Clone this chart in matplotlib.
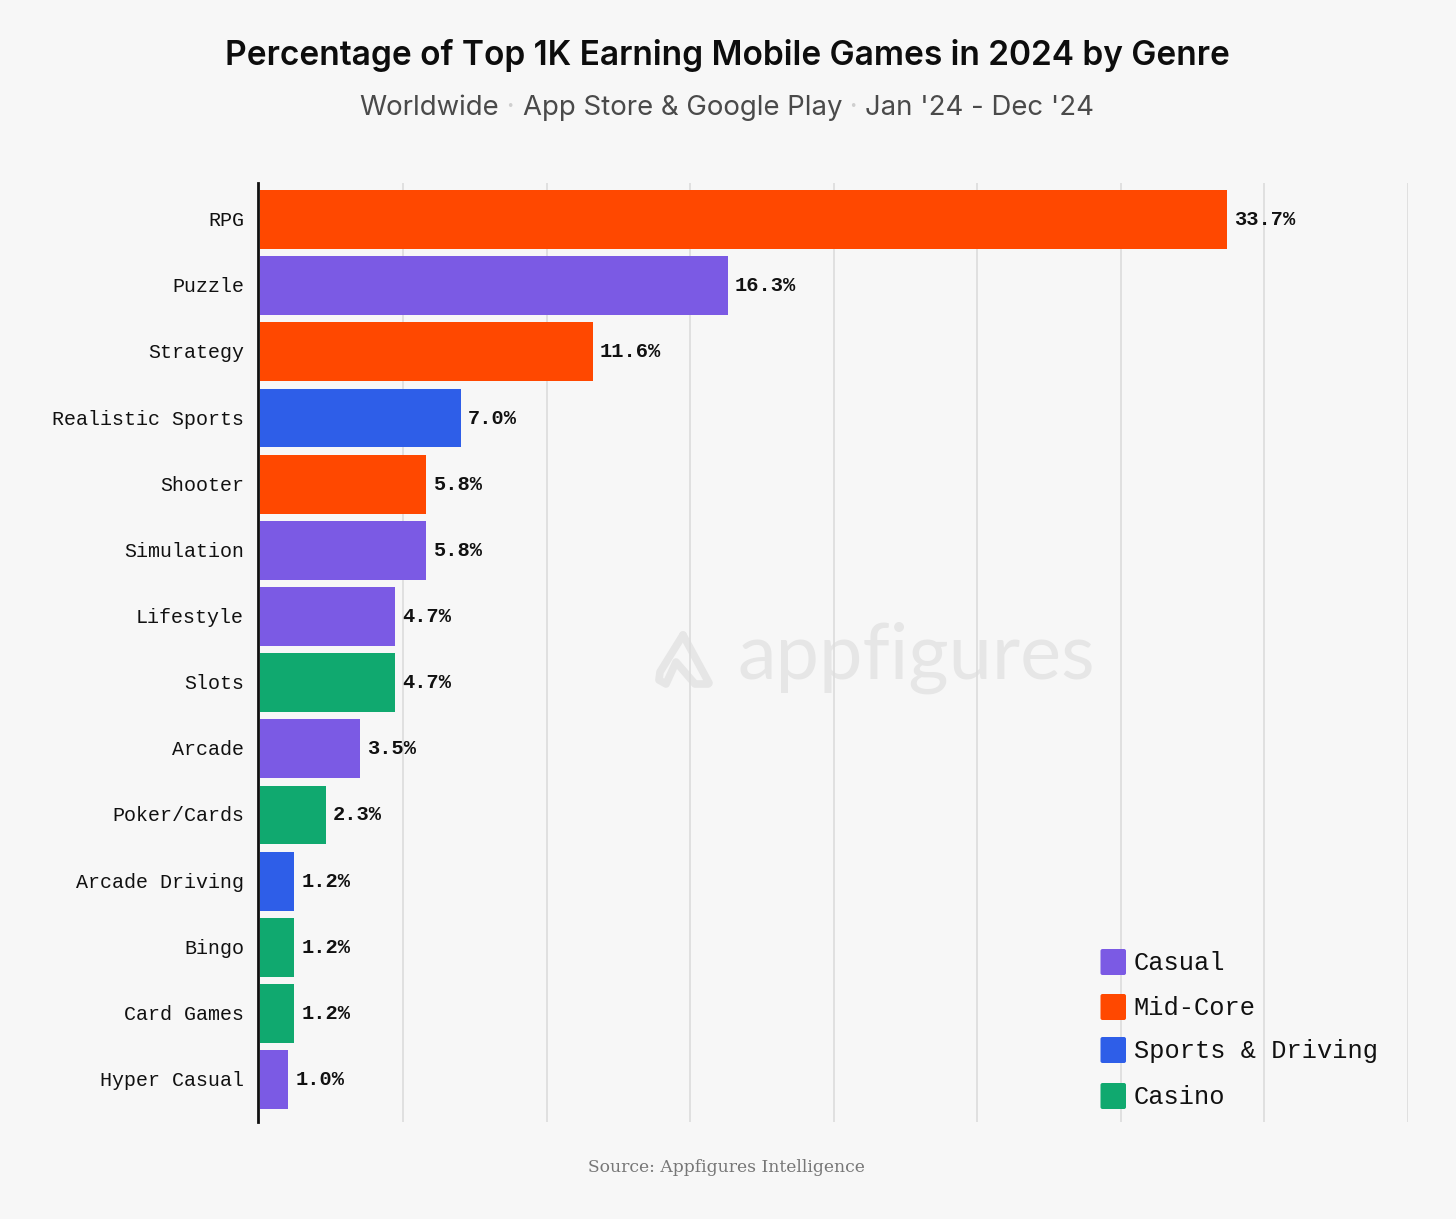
import matplotlib
matplotlib.use("Agg")
import matplotlib.pyplot as plt
from matplotlib.patches import FancyBboxPatch
from matplotlib.lines import Line2D
from matplotlib.transforms import ScaledTranslation

# data
genres = ["RPG", "Puzzle", "Strategy", "Realistic Sports", "Shooter", "Simulation",
          "Lifestyle", "Slots", "Arcade", "Poker/Cards", "Arcade Driving", "Bingo",
          "Card Games", "Hyper Casual"]
shares = [33.7, 16.3, 11.6, 7.0, 5.8, 5.8, 4.7, 4.7, 3.5, 2.3, 1.2, 1.2, 1.2, 1.0]
groups = ["Mid-Core", "Casual", "Mid-Core", "Sports & Driving", "Mid-Core", "Casual",
          "Casual", "Casino", "Casual", "Casino", "Sports & Driving", "Casino",
          "Casino", "Casual"]
legend_names = ["Casual", "Mid-Core", "Sports & Driving", "Casino"]
group_colors = {"Casual": "#7B5AE4", "Mid-Core": "#FF4800",
                "Sports & Driving": "#2E5EE8", "Casino": "#10A96F"}
x_ticks = [5, 10, 15, 20, 25, 30, 35, 40]

W, H = 1456, 1219
BG = "#F7F7F7"
MONO = "Liberation Mono"
SANS = "Inter"

fig = plt.figure(figsize=(W / 100, H / 100), dpi=100, facecolor=BG)


def fx(px):
    return px / W


def fy(py):
    return 1 - py / H


# axes box in pixels: x 259.7-1407.7, y 183-1122
ax = fig.add_axes([fx(259.7), fy(1122), fx(1148), (1122 - 183) / H])
ax.set_facecolor("none")
ax.set_zorder(2)

# set_position resets the ticks, so it has to come before the tick styling
for s in ["top", "right", "bottom"]:
    ax.spines[s].set_visible(False)
ax.spines["left"].set_position(("outward", 1.0))
ax.spines["left"].set_linewidth(2.0)
ax.spines["left"].set_color("#111111")
ax.spines["left"].set_zorder(5)

ax.set_xlim(0, 40)
ax.set_ylim(13.64, -0.552)

ypos = list(range(len(genres)))
ax.barh(ypos, shares, height=0.89, color=[group_colors[g] for g in groups], zorder=3)
for y, v in zip(ypos, shares):
    ax.annotate(f"{v:.1f}%", (v, y), xytext=(5.2, 0), textcoords="offset points",
                va="center", ha="left", family=MONO, weight="bold",
                fontsize=14.7, color="#111111", zorder=4)

ax.set_xticks(x_ticks)
ax.set_xticklabels([])
ax.tick_params(axis="x", length=0)
ax.set_yticks(ypos)
ax.set_yticklabels(genres, family=MONO, fontsize=14.45, color="#111111")
ax.tick_params(axis="y", length=0, pad=10.3)
# labels sit a pixel higher than matplotlib centres them
up = ScaledTranslation(0, 1 / 100, fig.dpi_scale_trans)
for lab in ax.get_yticklabels():
    lab.set_transform(lab.get_transform() + up)
ax.grid(axis="x", color="#DEDEDE", lw=1.3, zorder=0)
ax.set_axisbelow(True)

# title
fig.text(fx(727), fy(56), "Percentage of Top 1K Earning Mobile Games in 2024 by Genre",
         ha="center", va="center", family=SANS, weight="semibold", fontsize=24.1,
         color="#0D0D0D")

# subtitle pieces, laid out left to right so the dots can be paler
pieces = [("Worldwide", "#4A4A4A"), (" · ", "#CFCFCF"), ("App Store & Google Play", "#4A4A4A"),
          (" · ", "#CFCFCF"), ("Jan '24 - Dec '24", "#4A4A4A")]
renderer = fig.canvas.get_renderer()
sub = [fig.text(0, fy(108), t, ha="left", va="center", family=SANS, fontsize=19.85,
                color=c) for t, c in pieces]
widths = [s.get_window_extent(renderer).width for s in sub]
total = sum(widths)
cur = 727 - total / 2
for s, w in zip(sub, widths):
    s.set_x(fx(cur))
    cur += w

# source
fig.text(fx(726), fy(1168), "Source: Appfigures Intelligence", ha="center", va="center",
         family="DejaVu Serif", fontsize=12.3, color="#777777")

# watermark
WM = "#E6E6E6"
fig.text(fx(738), fy(658), "appfigures", ha="left", va="center", family="Lato",
         fontsize=55.8, color=WM, zorder=1)
for xs, ys in [([683, 709], [635, 683]),
               ([683, 660, 659, 666, 676, 695, 708], [635, 672, 680, 684, 662, 684, 684])]:
    fig.add_artist(Line2D([fx(x) for x in xs], [fy(y) for y in ys], color=WM, lw=5.5,
                          solid_capstyle="round", solid_joinstyle="round", zorder=1))

# legend, rows are not evenly spaced in the original
legend_y = [962, 1007, 1050, 1096]
for name, y in zip(legend_names, legend_y):
    fig.add_artist(FancyBboxPatch((1100.5, H - y - 13), 25.5, 26,
                                  boxstyle="round,pad=0,rounding_size=2",
                                  transform=None, fc=group_colors[name], ec="none", zorder=6))
    fig.text(fx(1133.5), fy(y + 1), name, ha="left", va="center", family=MONO,
             fontsize=18.25, color="#111111", zorder=6)

fig.savefig("out.png", dpi=100, facecolor=BG)
